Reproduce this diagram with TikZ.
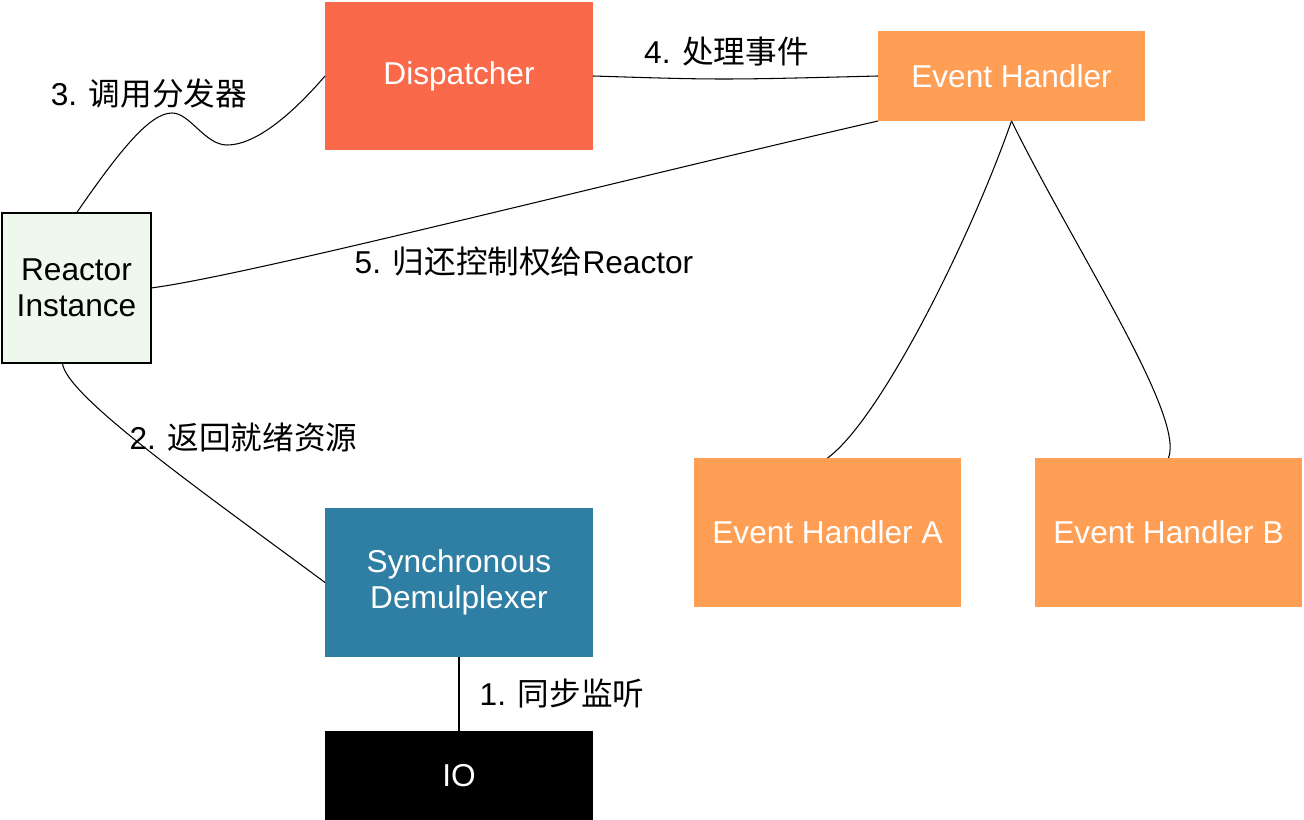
\documentclass[tikz,border=0pt]{standalone}
\usepackage{fontspec}
\setmainfont{Liberation Sans}
\newfontfamily\cjk{Noto Sans CJK SC}

\definecolor{dispatchred}{HTML}{FA6A4A}
\definecolor{handlerorange}{HTML}{FF9F55}
\definecolor{demuxblue}{HTML}{2F7EA3}
\definecolor{reactorgreen}{HTML}{EFF8EC}

\begin{document}
\begin{tikzpicture}[
  x=0.02cm,
  y=-0.02cm,
  font=\fontsize{18}{20.5}\selectfont,
  block/.style = {
    shape=rectangle,
    inner sep=0pt,
    outer sep=0pt,
    minimum width=5.36cm,
    minimum height=2.98cm,
    text=white,
    align=center
  },
  link/.style = {
    draw,
    line width=0.6pt
  },
  note/.style = {
    inner sep=0pt,
    text=black
  },
]
  \useasboundingbox (0,0) rectangle (1304,820);

  \node (dispatcher)[
    block,
    fill=dispatchred,
    minimum height=2.96cm
  ] at (459,76) {Dispatcher};
  \node (handler)[
    block,
    fill=handlerorange,
    minimum width=5.34cm,
    minimum height=1.8cm
  ] at (1011.5,76) {Event Handler};
  \node (reactor)[
    block,
    draw=black,
    line width=0.9pt,
    fill=reactorgreen,
    text=black,
    minimum width=2.98cm,
    minimum height=3cm
  ] at (76.5,288) {Reactor\\Instance};
  \node (demux)[
    block,
    fill=demuxblue
  ] at (459,582.5) {Synchronous\\Demulplexer};
  \node (io)[
    block,
    fill=black,
    minimum height=1.78cm
  ] at (459,775.5) {IO};
  \node (handlera)[
    block,
    fill=handlerorange,
    minimum width=5.34cm
  ] at (827.5,532.5) {Event Handler A};
  \node (handlerb)[
    block,
    fill=handlerorange,
    minimum width=5.34cm
  ] at (1168.5,532.5) {Event Handler B};

  % connectors
  \draw[link] (demux.south) -- (io.north);
  \draw[link] ([xshift=-8pt]reactor.south)
    .. controls (65,395) and (200,490) .. (demux.west);
  \draw[link] (reactor.north)
    .. controls (120,150) and (150,113) .. (172,113)
    .. controls (190,113) and (205,145) .. (227,145)
    .. controls (260,145) and (300,105) .. (dispatcher.west);
  \draw[link] (dispatcher.east) .. controls (720,80) .. (handler.west);
  \draw[link] (handler.south west)
    .. controls (600,185) and (250,275) .. (reactor.east);
  \draw[link] (handler.south)
    .. controls (970,240) and (880,420) .. (handlera.north);
  \draw[link] (handler.south)
    .. controls (1075,250) and (1185,415) .. (handlerb.north);

  % step labels
  \node (step1)[note] at (562,694) {1. {\cjk 同步监听}};
  \node (step2)[note] at (243.5,437) {2. {\cjk 返回就绪资源}};
  \node (step3)[note] at (149,94) {3. {\cjk 调用分发器}};
  \node (step4)[note] at (726.5,52) {4. {\cjk 处理事件}};
  \node (step5)[note] at (524,262) {5. {\cjk 归还控制权给}Reactor};
\end{tikzpicture}
\end{document}
